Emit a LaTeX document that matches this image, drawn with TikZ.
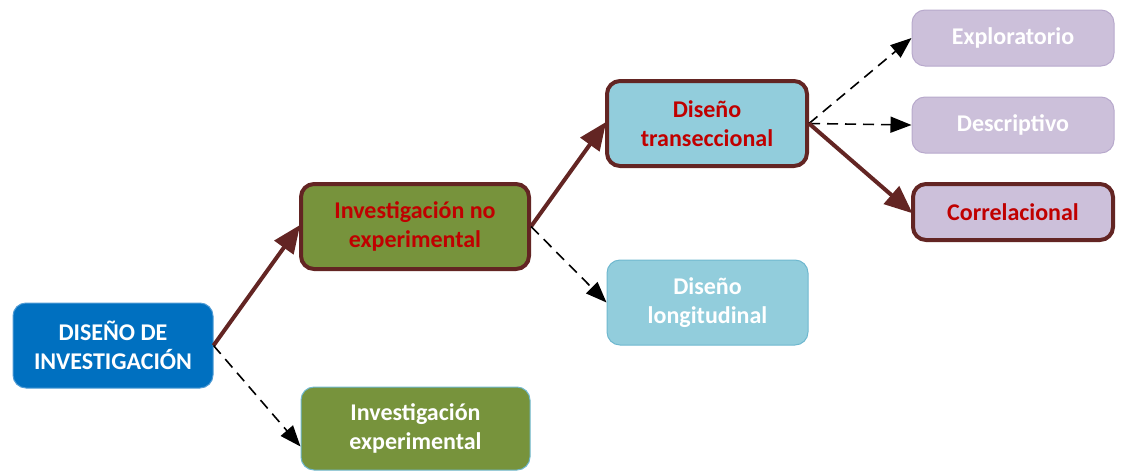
\documentclass[tikz,border=0pt]{standalone}
\usepackage{fontspec}
\setmainfont{Carlito}
\usetikzlibrary{arrows.meta,calc}
\definecolor{cblue}{HTML}{0070C0}
\definecolor{cblueb}{HTML}{4F9BD5}
\definecolor{colive}{HTML}{77933C}
\definecolor{cbrown}{HTML}{632523}
\definecolor{cred}{HTML}{C00000}
\definecolor{clblue}{HTML}{92CDDC}
\definecolor{clblueb}{HTML}{6FB8CF}
\definecolor{clav}{HTML}{CCC0DA}
\definecolor{clavb}{HTML}{B8A9CC}
\tikzset{
  box/.style={rectangle, rounded corners=13pt, align=center, font=\bfseries\fontsize{24}{29}\selectfont, inner sep=0pt},
  thinb/.style={line width=1pt, text=white},
  thickb/.style={draw=cbrown, line width=4pt, text=cred},
  main/.style={draw=cbrown, line width=4pt, -{Triangle[length=28pt,width=23pt]}, shorten >=-2pt},
  side/.style={draw=black, line width=1.6pt, dash pattern=on 11pt off 7pt, -{Triangle[length=21pt,width=16pt]}},
}
\begin{document}
\begin{tikzpicture}[x=1pt,y=-1pt]
\useasboundingbox (0,0) rectangle (1122,472);
\node[box,thinb,fill=cblue,draw=cblueb,minimum width=200pt,minimum height=85pt] (dis) at (113,345.5) {DISEÑO DE\\INVESTIGACIÓN};
\node[box,thickb,fill=colive,minimum width=228pt,minimum height=85pt] (inv) at (415,226.5) {Investigación no\\experimental};
\node[box,thinb,fill=colive,draw=clblueb,minimum width=229pt,minimum height=83pt] (exp) at (415.5,428.5) {Investigación\\experimental};
\node[box,thickb,fill=clblue,minimum width=200pt,minimum height=85pt] (tra) at (707,123.5) {Diseño\\transeccional};
\node[box,thinb,fill=clblue,draw=clblueb,minimum width=201pt,minimum height=85pt] (lon) at (707.5,302.5) {Diseño\\longitudinal};
\node[box,thinb,fill=clav,draw=clavb,minimum width=202pt,minimum height=56pt] (exr) at (1013,38) {Exploratorio};
\node[box,thinb,fill=clav,draw=clavb,minimum width=202pt,minimum height=56pt] (des) at (1013,125) {Descriptivo};
\node[box,thickb,fill=clav,minimum width=200pt,minimum height=56pt] (cor) at (1013,212) {Correlacional};
\draw[main] (dis.east) -- (inv.west);
\draw[side] (dis.east) -- ($(exp.west)+(0,18)$);
\draw[main] (inv.east) -- (tra.west);
\draw[side] (inv.east) -- (lon.west);
\draw[side] (tra.east) -- (exr.west);
\draw[side] (tra.east) -- (des.west);
\draw[main] (tra.east) -- (cor.west);
\end{tikzpicture}
\end{document}
